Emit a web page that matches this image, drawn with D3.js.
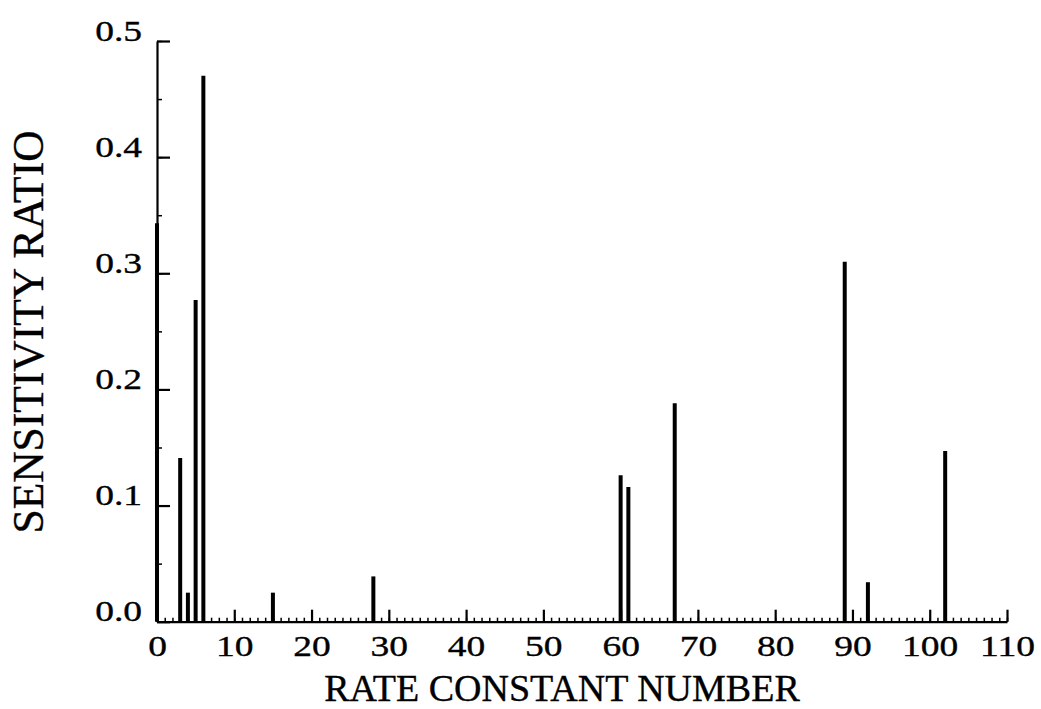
<!DOCTYPE html>
<html>
<head>
<meta charset="utf-8">
<script src="https://cdn.jsdelivr.net/npm/d3@7"></script>
<style>
  html, body { margin: 0; padding: 0; background: #fff; }
  svg { display: block; }
  text { font-family: "Liberation Serif", "Times New Roman", serif; fill: #000; stroke: #000; stroke-width: 0.35px; }
</style>
</head>
<body>
<svg id="chart" width="1041" height="709"></svg>
<script>
// Sensitivity ratio for each rate constant (only non-zero entries)
const rateConstants = [0, 3, 4, 5, 6, 15, 28, 60, 61, 67, 89, 92, 102];
const sensitivity  = [0.343, 0.141, 0.025, 0.277, 0.470, 0.025, 0.039, 0.126, 0.116, 0.188, 0.310, 0.034, 0.147];

const xTickLabels = [0, 10, 20, 30, 40, 50, 60, 70, 80, 90, 100, 110];
const yTickLabels = [0.0, 0.1, 0.2, 0.3, 0.4, 0.5];

const svg = d3.select("#chart");
const plotLeft = 157, plotRight = 1007, plotTop = 41, plotBottom = 621.7;
const digitStretch = 1.25;   // tick numerals are set in a wide face

const x = d3.scaleLinear().domain([0, 110]).range([plotLeft, plotRight]);
const y = d3.scaleLinear().domain([0, 0.5]).range([plotBottom, plotTop]);

// Bars (drawn as thick vertical strokes)
svg.append("g")
  .selectAll("line")
  .data(rateConstants.map((k, i) => ({ k, v: sensitivity[i] })))
  .join("line")
  .attr("x1", d => x(d.k))
  .attr("x2", d => x(d.k))
  .attr("y1", y(0))
  .attr("y2", d => y(d.v))
  .attr("stroke", "#000")
  .attr("stroke-width", 4);

// X axis: minor ticks every unit, major every 10, all pointing inward
const xMinor = svg.append("g").attr("transform", `translate(0,${plotBottom})`)
  .call(d3.axisBottom(x).tickValues(d3.range(0, 111, 1)).tickSizeInner(-4).tickSizeOuter(0).tickFormat(""));
xMinor.select(".domain").attr("stroke-width", 2.2);
xMinor.selectAll(".tick line").attr("stroke-width", 1.5);

const xMajor = svg.append("g").attr("transform", `translate(0,${plotBottom})`)
  .call(d3.axisBottom(x).tickValues(xTickLabels).tickSizeInner(-12).tickSizeOuter(0).tickFormat(d3.format("d")));
xMajor.select(".domain").remove();
xMajor.selectAll(".tick line").attr("stroke-width", 2.2);
xMajor.selectAll(".tick text")
  .attr("y", 34).attr("dy", 0)
  .attr("transform", `scale(${digitStretch},1)`)
  .style("font-size", "30px");

// Y axis: minor ticks every 0.05, major every 0.1
const yMinor = svg.append("g").attr("transform", `translate(${plotLeft},0)`)
  .call(d3.axisLeft(y).tickValues(d3.range(0, 0.501, 0.05)).tickSizeInner(-5).tickSizeOuter(0).tickFormat(""));
yMinor.select(".domain").attr("stroke-width", 2.2);
yMinor.selectAll(".tick line").attr("stroke-width", 1.5);

const yMajor = svg.append("g").attr("transform", `translate(${plotLeft},0)`)
  .call(d3.axisLeft(y).tickValues(yTickLabels).tickSizeInner(-13).tickSizeOuter(0).tickFormat(d3.format(".1f")));
yMajor.select(".domain").remove();
yMajor.selectAll(".tick line").attr("stroke-width", 2.2);
yMajor.selectAll(".tick text")
  .attr("x", -15 / digitStretch).attr("dy", 0).attr("y", -1)
  .attr("transform", `scale(${digitStretch},1)`)
  .attr("text-anchor", "end")
  .style("font-size", "30px");

svg.selectAll(".domain, .tick line").attr("stroke", "#000");
svg.selectAll("g").attr("font-family", null).attr("font-size", null);

// Axis titles
svg.append("text")
  .attr("x", 562)
  .attr("y", 701)
  .attr("text-anchor", "middle")
  .style("font-size", "38px")
  .text("RATE CONSTANT NUMBER");

svg.append("text")
  .attr("transform", "translate(43,332) rotate(-90)")
  .attr("text-anchor", "middle")
  .style("font-size", "43.5px")
  .text("SENSITIVITY RATIO");
</script>
</body>
</html>
